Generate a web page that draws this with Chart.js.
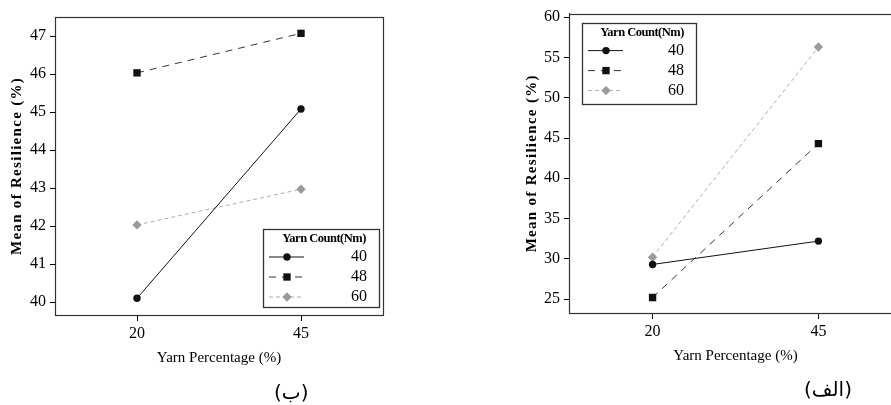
<!DOCTYPE html>
<html>
<head>
<meta charset="utf-8">
<script src="https://cdn.jsdelivr.net/npm/chart.js@4.4.1/dist/chart.umd.min.js"></script>
<style>
html,body{margin:0;padding:0;background:#fff;overflow:hidden;width:891px;height:405px;}
#c1{position:absolute;left:0;top:0;}
#c2{position:absolute;left:460px;top:0;}
.lbl{position:absolute;font-family:"DejaVu Sans",sans-serif;font-size:20px;color:#000;line-height:24px;}
</style>
</head>
<body>
<canvas id="c1" width="420" height="405"></canvas>
<canvas id="c2" width="460" height="405"></canvas>
<div class="lbl" style="left:274px;top:380px">(ب)</div>
<div class="lbl" style="left:804px;top:377px">(الف)</div>
<script>
// x categories (yarn percentage) and the three yarn counts
const xValues = [20, 45];
const seriesNames = ['40', '48', '60'];
const legendTitle = 'Yarn Count(Nm)';
const xTitle = 'Yarn Percentage (%)';
const yTitle = 'Mean of Resilience (%)';

// chart (ب)
const leftCount40 = [40.1, 45.08];
const leftCount48 = [46.03, 47.07];
const leftCount60 = [42.03, 42.97];
const leftYTicks = [40, 41, 42, 43, 44, 45, 46, 47];

// chart (الف)
const rightCount40 = [29.3, 32.2];
const rightCount48 = [25.2, 44.3];
const rightCount60 = [30.2, 56.3];
const rightYTicks = [25, 30, 35, 40, 45, 50, 55, 60];

const serif = '"Liberation Serif", "Times New Roman", serif';

function pts(vals) {
  return xValues.map((x, i) => ({x: x, y: vals[i]}));
}

function makeDatasets(v40, v48, v60) {
  return [
    {label: seriesNames[0], data: pts(v40), borderColor: '#111', backgroundColor: '#111',
     borderWidth: 1, pointStyle: 'circle', pointRadius: 3.7, pointBorderWidth: 0},
    {label: seriesNames[1], data: pts(v48), borderColor: '#333', backgroundColor: '#111',
     borderWidth: 1, borderDash: [7, 6], pointStyle: 'rect', pointRadius: 5.2, pointBorderWidth: 0},
    {label: seriesNames[2], data: pts(v60), borderColor: '#adadad', backgroundColor: '#9a9a9a',
     borderWidth: 1, borderDash: [4, 3], pointStyle: 'rectRot', pointRadius: 4.7, pointBorderWidth: 0}
  ];
}

function marker(ctx, style, r, x, y) {
  ctx.beginPath();
  if (style === 'circle') {
    ctx.arc(x, y, r, 0, Math.PI * 2);
  } else if (style === 'rect') {
    const s = r * Math.SQRT1_2;
    ctx.rect(x - s, y - s, 2 * s, 2 * s);
  } else {
    ctx.moveTo(x, y - r); ctx.lineTo(x + r, y); ctx.lineTo(x, y + r); ctx.lineTo(x - r, y);
    ctx.closePath();
  }
  ctx.fill();
}

// frame, y title and the boxed legend
const framePlugin = {
  id: 'frameBox',
  afterDraw(chart, args, opts) {
    const ctx = chart.ctx;
    const a = chart.chartArea;
    ctx.save();
    ctx.strokeStyle = '#333';
    ctx.lineWidth = 1.2;
    ctx.setLineDash([]);
    ctx.strokeRect(Math.round(a.left) + 0.5, Math.round(a.top) + 0.5,
                   Math.round(a.right - a.left), Math.round(a.bottom - a.top));

    // y title
    ctx.save();
    ctx.translate(opts.yTitleX, (a.top + a.bottom) / 2);
    ctx.rotate(-Math.PI / 2);
    ctx.font = 'bold 15px ' + serif;
    ctx.letterSpacing = '1.3px';
    ctx.fillStyle = '#000';
    ctx.textAlign = 'center';
    ctx.textBaseline = 'middle';
    ctx.fillText(yTitle, 0, 0);
    ctx.restore();

    // legend
    const b = opts.box;
    const bx = b.right ? a.right - b.right - b.w : a.left + b.left;
    const by = b.bottom ? a.bottom - b.bottom - b.h : a.top + b.top;
    ctx.fillStyle = '#fff';
    ctx.fillRect(bx, by, b.w, b.h);
    ctx.strokeStyle = '#333';
    ctx.lineWidth = 1.3;
    ctx.strokeRect(Math.round(bx) + 0.5, Math.round(by) + 0.5, b.w, b.h);
    ctx.fillStyle = '#000';
    ctx.font = 'bold 12.5px ' + serif;
    ctx.letterSpacing = '-0.5px';
    ctx.textAlign = 'center';
    ctx.textBaseline = 'middle';
    ctx.fillText(legendTitle, bx + b.w / 2 + 3, by + 10);
    ctx.letterSpacing = '0px';
    chart.data.datasets.forEach((ds, i) => {
      const yy = by + 28 + i * 20;
      ctx.strokeStyle = ds.borderColor;
      ctx.lineWidth = 1;
      ctx.setLineDash(ds.borderDash || []);
      ctx.beginPath();
      ctx.moveTo(bx + 6, yy);
      ctx.lineTo(bx + 41, yy);
      ctx.stroke();
      ctx.setLineDash([]);
      ctx.fillStyle = ds.backgroundColor;
      marker(ctx, ds.pointStyle, ds.pointRadius, bx + 24, yy);
      ctx.fillStyle = '#000';
      ctx.font = '16px ' + serif;
      ctx.textAlign = 'right';
      ctx.fillText(ds.label, bx + b.w - 12, yy);
    });
    ctx.restore();
  }
};

function makeChart(id, datasets, yTicks, ymin, ymax, xmin, xmax, yAxisWidth, pad, opts) {
  return new Chart(document.getElementById(id), {
    type: 'line',
    data: {datasets: datasets},
    plugins: [framePlugin],
    options: {
      responsive: false,
      animation: false,
      devicePixelRatio: 1,
      layout: {padding: pad},
      plugins: {legend: {display: false}, tooltip: {enabled: false}, frameBox: opts},
      scales: {
        x: {
          type: 'linear', min: xmin, max: xmax,
          afterBuildTicks: s => { s.ticks = xValues.map(v => ({value: v})); },
          afterFit: s => { s.height = 60; },
          grid: {drawOnChartArea: false, drawTicks: true, tickLength: 6, color: '#000'},
          border: {display: true, color: '#333'},
          ticks: {color: '#000', font: {family: serif, size: 16}, padding: 3},
          title: {display: true, text: xTitle, color: '#000', font: {family: serif, size: 15}, padding: {top: 0, bottom: 8}}
        },
        y: {
          type: 'linear', min: ymin, max: ymax,
          afterBuildTicks: s => { s.ticks = yTicks.map(v => ({value: v})); },
          afterFit: s => { s.width = yAxisWidth; },
          grid: {drawOnChartArea: false, drawTicks: true, tickLength: 5, color: '#000'},
          border: {display: true, color: '#333'},
          ticks: {color: '#000', font: {family: serif, size: 16}, padding: 4}
        }
      }
    }
  });
}

makeChart('c1', makeDatasets(leftCount40, leftCount48, leftCount60), leftYTicks,
  39.66, 47.5, 7.5, 57.5, 55, {left: 0, top: 17, right: 37, bottom: 30},
  {yTitleX: 17, box: {right: 4, bottom: 8, w: 116, h: 78}});

makeChart('c2', makeDatasets(rightCount40, rightCount48, rightCount60), rightYTicks,
  23.27, 60.45, 7.4, 57.6, 109, {left: 0, top: 12, right: 18, bottom: 32},
  {yTitleX: 72, box: {left: 13, top: 9, w: 114, h: 81}});
</script>
</body>
</html>
